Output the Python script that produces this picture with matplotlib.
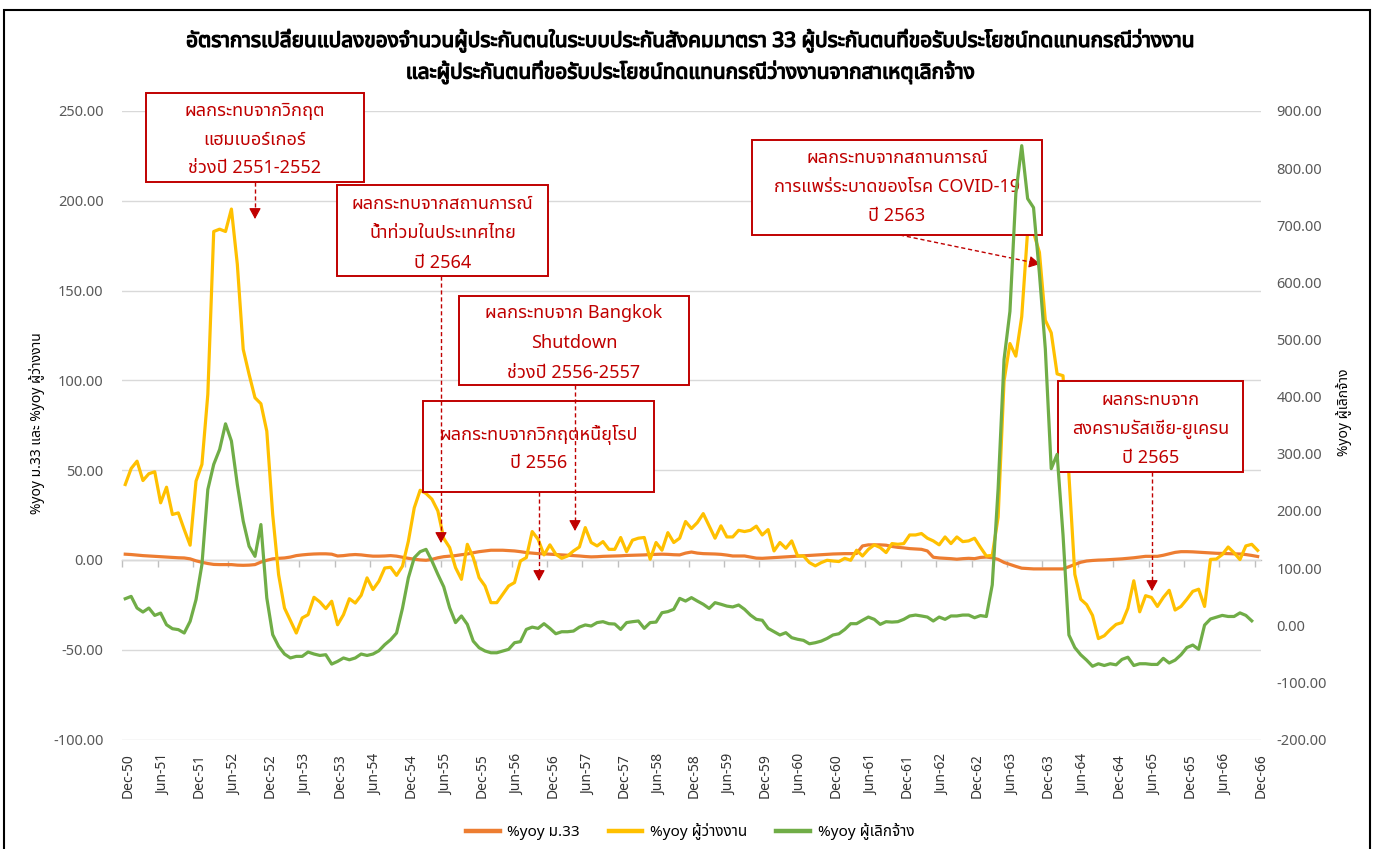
"""
อัตราการเปลี่ยนแปลง %yoy ผู้ประกันตน ม.33 / ผู้ว่างงาน / ผู้เลิกจ้าง (Dec-50 .. Dec-66)
"""

import numpy as np
import matplotlib
matplotlib.use("Agg")
import matplotlib.pyplot as plt
import matplotlib.patheffects as pe
from matplotlib import font_manager
from matplotlib.ft2font import FT2Font
from matplotlib.lines import Line2D
from matplotlib.patches import Rectangle, FancyArrowPatch
from matplotlib.ticker import FuncFormatter
from matplotlib.transforms import ScaledTranslation

# ---- data: monthly %yoy, Dec-2550 .. Dec-2566 ----
tick_labels = ['Dec-50', 'Jun-51', 'Dec-51', 'Jun-52', 'Dec-52', 'Jun-53', 'Dec-53', 'Jun-54',
               'Dec-54', 'Jun-55', 'Dec-55', 'Jun-56', 'Dec-56', 'Jun-57', 'Dec-57', 'Jun-58',
               'Dec-58', 'Jun-59', 'Dec-59', 'Jun-60', 'Dec-60', 'Jun-61', 'Dec-61', 'Jun-62',
               'Dec-62', 'Jun-63', 'Dec-63', 'Jun-64', 'Dec-64', 'Jun-65', 'Dec-65', 'Jun-66',
               'Dec-66']

# %yoy ม.33 (left axis)
m33 = [3.2, 3.0, 2.7, 2.4, 2.2, 2.0, 1.8, 1.6, 1.4, 1.2,
       1.1, 0.6, -0.5, -1.3, -2.0, -2.5, -2.6, -2.6, -2.6, -2.9,
       -3.0, -2.9, -2.6, -1.2, -0.2, 0.6, 0.9, 1.1, 1.6, 2.4,
       2.8, 3.1, 3.3, 3.4, 3.4, 3.2, 2.2, 2.4, 2.8, 3.0,
       2.8, 2.4, 2.1, 2.1, 2.2, 2.4, 2.1, 1.5, 0.9, 0.4,
       0.0, -0.2, 0.3, 1.2, 1.8, 2.1, 2.4, 2.9, 3.3, 4.0,
       4.6, 5.0, 5.4, 5.4, 5.4, 5.2, 5.0, 4.6, 4.1, 3.8,
       3.5, 3.4, 3.2, 3.0, 2.8, 2.6, 2.4, 2.2, 1.9, 1.7,
       1.8, 2.0, 2.1, 2.2, 2.3, 2.5, 2.6, 2.7, 2.8, 3.0,
       3.1, 3.2, 3.1, 2.9, 2.8, 3.8, 4.4, 3.8, 3.5, 3.4,
       3.3, 3.1, 2.7, 2.2, 2.2, 2.2, 1.6, 1.0, 0.9, 1.1,
       1.3, 1.5, 1.7, 1.9, 2.1, 2.3, 2.5, 2.7, 2.9, 3.1,
       3.3, 3.4, 3.5, 3.5, 3.6, 7.8, 8.4, 8.4, 8.4, 8.2,
       7.5, 7.0, 6.7, 6.3, 6.1, 5.9, 5.0, 1.5, 1.1, 0.9,
       0.7, 0.4, 0.7, 0.9, 0.7, 1.4, 1.6, 1.2, 0.3, -1.4,
       -2.5, -3.6, -4.6, -4.8, -5.0, -5.0, -5.0, -5.0, -5.0, -5.0,
       -3.8, -2.5, -1.3, -0.6, -0.3, -0.1, 0.0, 0.2, 0.4, 0.6,
       0.9, 1.2, 1.6, 2.0, 2.0, 2.0, 2.6, 3.4, 4.2, 4.6,
       4.6, 4.5, 4.3, 4.1, 3.9, 3.7, 3.6, 3.5, 3.4, 3.3,
       3.0, 2.5, 1.9]

# %yoy ผู้ว่างงาน (left axis)
unemployed = [42.0, 50.9, 55.0, 44.2, 48.0, 49.1, 31.8, 40.5, 25.3, 26.2,
              16.9, 8.2, 43.9, 53.2, 92.2, 182.9, 184.2, 182.9, 195.4, 164.7,
              117.3, 103.3, 90.3, 87.0, 71.7, 25.3, -8.2, -26.8, -33.8, -40.7,
              -32.3, -30.5, -20.8, -23.4, -27.1, -23.0, -36.1, -30.5, -21.6, -24.0,
              -19.7, -10.0, -16.5, -11.9, -4.5, -4.1, -8.6, -3.5, 10.4, 29.0,
              38.8, 37.0, 33.8, 27.3, 12.0, 6.9, -4.3, -10.8, 8.7, 1.3,
              -9.9, -14.5, -23.8, -23.8, -19.1, -14.5, -12.6, -0.6, 1.3, 15.8,
              11.5, 2.8, 8.4, 3.2, 0.9, 2.2, 5.0, 7.2, 18.0, 9.7,
              7.8, 10.2, 5.9, 5.9, 12.5, 4.6, 11.0, 12.1, 12.5, 0.4,
              9.7, 5.4, 15.2, 9.7, 12.1, 21.4, 17.5, 20.8, 25.8, 19.0,
              12.1, 19.0, 12.8, 12.8, 16.5, 15.8, 16.5, 18.8, 13.9, 16.9,
              5.0, 9.7, 6.5, 10.6, 2.2, 2.2, -1.5, -3.3, -1.5, -0.2,
              -0.6, -0.9, 0.9, -0.2, 5.4, 2.2, 5.9, 8.4, 6.9, 4.1,
              9.1, 8.7, 9.1, 13.9, 13.9, 14.7, 12.1, 10.6, 8.4, 12.8,
              9.1, 12.8, 10.2, 10.6, 12.1, 7.0, 2.2, 2.5, 23.9, 99.6,
              120.5, 113.5, 135.5, 183.3, 182.3, 171.3, 133.5, 126.5, 103.6, 102.6,
              47.8, -8.0, -21.9, -24.9, -30.9, -43.8, -42.2, -38.8, -35.9, -34.9,
              -26.9, -11.6, -28.9, -19.9, -20.9, -25.9, -20.9, -16.9, -27.9, -25.9,
              -21.9, -17.5, -16.3, -25.9, 0.3, 0.5, 3.0, 7.2, 4.0, 0.2,
              7.8, 8.7, 5.3]

# %yoy ผู้เลิกจ้าง (right axis, ends Nov-66)
laid_off = [46.4, 50.5, 30.1, 23.1, 30.1, 17.2, 21.3, 0.8, -6.1, -7.7,
            -13.6, 6.8, 44.8, 106.1, 237.5, 281.5, 307.6, 352.5, 322.4, 246.3,
            182.2, 138.2, 120.6, 176.2, 47.7, -16.5, -36.9, -50.4, -57.3, -54.5,
            -54.5, -46.9, -50.4, -52.9, -51.6, -68.0, -63.3, -57.3, -60.5, -57.3,
            -50.4, -52.9, -50.4, -44.7, -34.0, -25.3, -13.6, 29.4, 82.9, 118.1,
            128.7, 132.8, 112.4, 89.1, 67.2, 30.7, 4.6, 16.2, 1.5, -27.8,
            -39.4, -45.1, -48.2, -48.2, -45.1, -42.2, -30.6, -28.7, -7.3, -3.3,
            -5.5, 2.7, -5.5, -14.9, -11.4, -11.4, -10.2, -3.3, 0.5, -1.4,
            4.6, 6.2, 2.7, 2.1, -7.3, 4.6, 6.2, 7.4, -5.5, 4.6,
            5.5, 21.9, 23.8, 27.9, 47.0, 42.3, 48.3, 42.3, 36.7, 29.4,
            39.5, 36.7, 33.5, 32.0, 35.4, 27.9, 17.8, 10.3, 8.7, -5.5,
            -11.4, -17.1, -13.0, -21.8, -24.6, -26.5, -32.5, -30.6, -27.8, -23.1,
            -17.1, -14.9, -7.3, 2.7, 2.7, 8.7, 14.3, 10.3, 1.5, 6.2,
            5.5, 6.2, 10.3, 16.2, 17.8, 16.2, 14.3, 7.4, 14.3, 10.3,
            16.2, 16.2, 17.8, 17.8, 13.1, 16.9, 15.3, 70.6, 239.4, 465.0,
            549.3, 755.4, 839.3, 746.6, 730.9, 615.3, 483.6, 274.0, 299.1, 158.0,
            -17.1, -39.1, -51.7, -61.1, -71.8, -67.4, -70.5, -67.4, -69.3, -59.8,
            -56.0, -70.5, -67.4, -67.4, -68.6, -68.6, -57.9, -66.1, -61.1, -51.7,
            -39.1, -34.7, -42.2, 0.2, 10.9, 14.0, 17.2, 15.3, 15.3, 21.6,
            17.2, 7.7]

series_names = ['%yoy ม.33', '%yoy ผู้ว่างงาน', '%yoy ผู้เลิกจ้าง']
series_colors = ['#ED7D31', '#FFC000', '#70AD47']

title_lines = ['อัตราการเปลี่ยนแปลงของจำนวนผู้ประกันตนในระบบประกันสังคมมาตรา 33 ผู้ประกันตนที่ขอรับประโยชน์ทดแทนกรณีว่างงาน',
               'และผู้ประกันตนที่ขอรับประโยชน์ทดแทนกรณีว่างงานจากสาเหตุเลิกจ้าง']

# annotation boxes: pixel box (x0, y0, x1, y1), text lines, line y centres
notes = [
    ((146, 93, 364, 182), ['ผลกระทบจากวิกฤต', 'แฮมเบอร์เกอร์', 'ช่วงปี 2551-2552'], [111, 140, 168]),
    ((337, 185, 548, 276), ['ผลกระทบจากสถานการณ์', 'น้ำท่วมในประเทศไทย', 'ปี 2564'], [204, 233, 263]),
    ((459, 296, 689, 385), ['ผลกระทบจาก Bangkok', 'Shutdown', 'ช่วงปี 2556-2557'], [313, 343, 373]),
    ((423, 401, 654, 492), ['ผลกระทบจากวิกฤตหนี้ยุโรป', 'ปี 2556'], [435, 463]),
    ((752, 140, 1042, 235), ['ผลกระทบจากสถานการณ์', 'การแพร่ระบาดของโรค COVID-19', 'ปี 2563'], [158, 187, 216]),
    ((1058, 381, 1243, 472), ['ผลกระทบจาก', 'สงครามรัสเซีย-ยูเครน', 'ปี 2565'], [400, 429, 458]),
]
# dashed arrows: start -> tip (pixels)
arrows = [((255, 182), (255, 219)), ((441, 276), (441, 543)), ((575, 385), (575, 531)),
          ((539, 492), (539, 581)), ((900, 235), (1040, 264)), ((1152, 472), (1152, 591))]


def find_thai_font():
    """หา font ที่มีอักษรไทย"""
    preferred = ['Noto Sans Thai', 'Noto Sans Thai UI', 'Loma', 'Garuda', 'Waree',
                 'Sawasdee', 'Umpush', 'Tlwg Typo', 'Kinnari', 'Norasi']
    found = {}
    for f in font_manager.fontManager.ttflist:
        try:
            if 0x0E01 in FT2Font(f.fname).get_charmap():
                found.setdefault(f.name, f.fname)
        except Exception:
            pass
    for name in preferred:
        if name in found:
            return name
    return sorted(found)[0] if found else None


thai = find_thai_font()
plt.rcParams['font.family'] = ['Noto Sans'] + ([thai] if thai else []) + ['DejaVu Sans']

W, H = 1381, 849
RED = '#C00000'


def fx(x):
    return x / W


def fy(y):
    return 1 - y / H


fig = plt.figure(figsize=(W / 100, H / 100), dpi=100)
ax = fig.add_axes([fx(122.3), fy(739.5), (1260.6 - 122.3) / W, (739.5 - 111) / H])
ax2 = ax.twinx()
ax2.set_zorder(1)   # green series drawn over the note boxes

ax.plot(np.arange(len(m33)), m33, color=series_colors[0], lw=2.3)
ax.plot(np.arange(len(unemployed)), unemployed, color=series_colors[1], lw=2.3)
ax2.plot(np.arange(len(laid_off)), laid_off, color=series_colors[2], lw=2.3)

ax.set_xlim(-0.5, len(m33) - 0.5)
ax.set_ylim(-100, 250)
ax2.set_ylim(-200, 900)
ax.set_yticks(np.arange(-100, 251, 50))
ax2.set_yticks(np.arange(-200, 901, 100))
fmt = FuncFormatter(lambda v, p: f'{v:.2f}')
ax.yaxis.set_major_formatter(fmt)
ax2.yaxis.set_major_formatter(fmt)

for a in (ax, ax2):
    for s in a.spines.values():
        s.set_visible(False)
ax.grid(axis='y', color='#d9d9d9', lw=1)
ax.set_axisbelow(True)
ax.tick_params(axis='y', length=0, pad=13.5, labelsize=10.5, labelcolor='#595959')
ax2.tick_params(axis='y', length=0, pad=11.5, labelsize=10.5, labelcolor='#595959')

ax.set_xticks(np.arange(0, len(m33), 6))
ax.set_xticklabels(tick_labels, rotation=90)
ax.tick_params(axis='x', length=0, pad=10, labelsize=10, labelcolor='#333333')
shift = ScaledTranslation(3 / 100, 0, fig.dpi_scale_trans)
for lbl in ax.get_xticklabels():
    lbl.set_transform(lbl.get_transform() + shift)

# category axis crosses at 0, tick marks between categories
sec = ax.secondary_xaxis(100 / 350)
sec.set_xticks(np.arange(-0.5, len(m33) - 1, 6))
sec.tick_params(axis='x', length=5, width=1, color='#bfbfbf', labelbottom=False, labeltop=False)
sec.spines['bottom'].set_color('#bfbfbf')
sec.spines['bottom'].set_linewidth(1)

# titles and axis titles
bold = [pe.withStroke(linewidth=0.9, foreground='black')]
fig.text(fx(690), fy(40), title_lines[0], ha='center', va='center', fontsize=15, path_effects=bold)
fig.text(fx(690), fy(72), title_lines[1], ha='center', va='center', fontsize=15, path_effects=bold)
fig.text(fx(37), fy(423), '%yoy ม.33 และ %yoy ผู้ว่างงาน', rotation=90, ha='center', va='center',
         fontsize=10)
fig.text(fx(1344), fy(412), '%yoy ผู้เลิกจ้าง', rotation=90, ha='center', va='center', fontsize=10)

# legend
handles = [Line2D([], [], color=c, lw=3.2) for c in series_colors]
fig.legend(handles, series_names, loc='center', bbox_to_anchor=(fx(690), fy(832)), ncol=3,
           frameon=False, fontsize=11, handlelength=2.2, handletextpad=0.5, columnspacing=1.9)

# annotation boxes (above the left-axis series, below the green one)
for (x0, y0, x1, y1), lines, ys in notes:
    fig.add_artist(Rectangle((fx(x0), fy(y1)), (x1 - x0) / W, (y1 - y0) / H, transform=fig.transFigure,
                             facecolor='white', edgecolor=RED, lw=1.4, zorder=0.5))
    for txt, yy in zip(lines, ys):
        fig.add_artist(plt.Text(fx((x0 + x1) / 2), fy(yy), txt, ha='center', va='center',
                                fontsize=13, color=RED, transform=fig.transFigure, zorder=0.6))

# dashed arrows
for (xs, ys), (xt, yt) in arrows:
    d = np.hypot(xt - xs, yt - ys)
    ux, uy = (xt - xs) / d, (yt - ys) / d
    bx, by = xt - 7 * ux, yt - 7 * uy
    fig.add_artist(Line2D([fx(xs), fx(bx)], [fy(ys), fy(by)], transform=fig.transFigure,
                          color=RED, lw=1.0, ls=(0, (3, 2)), zorder=0.6))
    fig.add_artist(FancyArrowPatch((fx(bx), fy(by)), (fx(xt), fy(yt)), transform=fig.transFigure,
                                   arrowstyle='-|>,head_length=0.55,head_width=0.3', mutation_scale=12,
                                   color=RED, lw=0.8, shrinkA=0, shrinkB=0, zorder=0.6))

# outer frame
fig.add_artist(Rectangle((fx(4), -0.05), (1370 - 4) / W, (849 - 10) / H + 0.05,
                         transform=fig.transFigure, fill=False, edgecolor='black', lw=1.5, zorder=10))

fig.savefig('out.png', dpi=100, facecolor='white')
